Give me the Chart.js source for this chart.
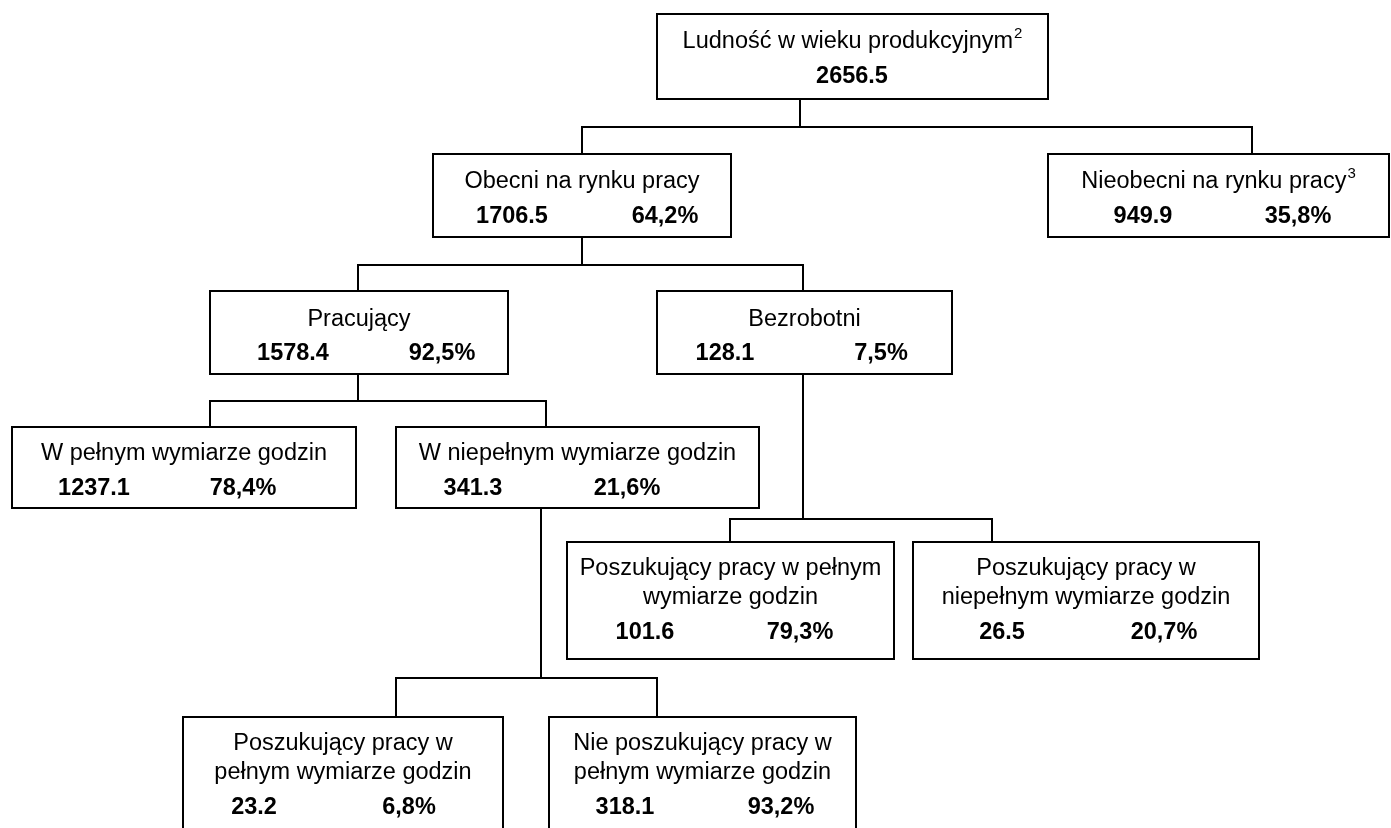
<!DOCTYPE html>
<html><head><meta charset="utf-8">
<script src="https://cdn.jsdelivr.net/npm/chart.js@4"></script>
<style>html,body{margin:0;padding:0;background:#fff}#wrap{width:1391px;height:828px;position:relative}</style>
</head><body><div id="wrap"><canvas id="c"></canvas></div>
<script>
// ---- data ----
const nodeTitles = [
  ['Ludność w wieku produkcyjnym'],
  ['Obecni na rynku pracy'],
  ['Nieobecni na rynku pracy'],
  ['Pracujący'],
  ['Bezrobotni'],
  ['W pełnym wymiarze godzin'],
  ['W niepełnym wymiarze godzin'],
  ['Poszukujący pracy w pełnym', 'wymiarze godzin'],
  ['Poszukujący pracy w', 'niepełnym wymiarze godzin'],
  ['Poszukujący pracy w', 'pełnym wymiarze godzin'],
  ['Nie poszukujący pracy w', 'pełnym wymiarze godzin']
];
const nodeNotes   = ['2', '', '3', '', '', '', '', '', '', '', ''];
const nodeValues  = [2656.5, 1706.5, 949.9, 1578.4, 128.1, 1237.1, 341.3, 101.6, 26.5, 23.2, 318.1];
const nodeShares  = [null, 64.2, 35.8, 92.5, 7.5, 78.4, 21.6, 79.3, 20.7, 6.8, 93.2];
const nodeParents = [-1, 0, 0, 1, 1, 3, 3, 4, 4, 6, 6];

// ---- layout (diagram units = px of the 1391x828 frame) ----
const boxLeft   = [657, 433, 1048, 210, 657, 12, 396, 567, 913, 183, 549];
const boxRight  = [1048, 731, 1389, 508, 952, 356, 759, 894, 1259, 503, 856];
const boxTop    = [14, 154, 154, 291, 291, 427, 427, 542, 542, 717, 717];
const boxBottom = [99, 237, 237, 374, 374, 508, 508, 659, 659, 840, 840];
const titleY    = [42, 182, 182, 320, 320, 454, 454, 569, 569, 744, 744];
const valueY    = [77, 217, 217, 354, 354, 489, 489, 633, 633, 808, 808];
const valueX    = [852, 512, 1143, 293, 725, 94, 473, 645, 1002, 254, 625];
const shareX    = [null, 665, 1298, 442, 881, 243, 627, 800, 1164, 409, 781];
const entryX    = [null, 582, 1252, 358, 803, 210, 546, 730, 992, 396, 657];
const exitX     = [800, 582, null, 358, 803, null, 541, null, null, null, null];
const busY      = [127, 265, null, 401, 519, null, 678, null, null, null, null];
const lineGap   = 29;
const FONT = "'Liberation Sans', Arial, sans-serif";
const FS = 23.5;

const fmtVal = v => v.toFixed(1);
const fmtShare = s => s.toFixed(1).replace('.', ',') + '%';

const treePlugin = {
  id: 'tree',
  afterDraw(chart) {
    const ctx = chart.ctx, X = v => chart.scales.x.getPixelForValue(v), Y = v => chart.scales.y.getPixelForValue(v);
    ctx.save();
    ctx.strokeStyle = '#000';
    ctx.lineWidth = 2;
    ctx.lineCap = 'square';
    // connectors
    nodeParents.forEach((p, i) => {
      if (p < 0) return;
      ctx.beginPath();
      ctx.moveTo(X(entryX[i]), Y(busY[p]));
      ctx.lineTo(X(entryX[i]), Y(boxTop[i]));
      ctx.stroke();
    });
    exitX.forEach((ex, p) => {
      if (ex == null) return;
      const kids = nodeParents.map((q, i) => q === p ? entryX[i] : null).filter(v => v != null);
      const lo = Math.min(ex, ...kids), hi = Math.max(ex, ...kids);
      ctx.beginPath();
      ctx.moveTo(X(ex), Y(boxBottom[p]));
      ctx.lineTo(X(ex), Y(busY[p]));
      ctx.moveTo(X(lo), Y(busY[p]));
      ctx.lineTo(X(hi), Y(busY[p]));
      ctx.stroke();
    });
    // boxes
    nodeTitles.forEach((t, i) => {
      const x0 = X(boxLeft[i]), x1 = X(boxRight[i]), y0 = Y(boxTop[i]), y1 = Y(boxBottom[i]);
      ctx.fillStyle = '#fff';
      ctx.fillRect(x0, y0, x1 - x0, y1 - y0);
      ctx.strokeRect(x0, y0, x1 - x0, y1 - y0);
      ctx.fillStyle = '#000';
      ctx.textBaseline = 'middle';
      const cx = (x0 + x1) / 2;
      t.forEach((line, k) => {
        const y = Y(titleY[i] + k * lineGap);
        ctx.font = FS + 'px ' + FONT;
        const w = ctx.measureText(line).width;
        let sw = 0;
        const note = k === t.length - 1 ? nodeNotes[i] : '';
        if (note) { ctx.font = '15px ' + FONT; sw = ctx.measureText(note).width + 1; }
        const start = cx - (w + sw) / 2;
        ctx.font = FS + 'px ' + FONT;
        ctx.textAlign = 'left';
        ctx.fillText(line, start, y);
        if (note) { ctx.font = '15px ' + FONT; ctx.fillText(note, start + w + 1, y - 8); }
      });
      ctx.font = 'bold ' + FS + 'px ' + FONT;
      ctx.textAlign = 'center';
      ctx.fillText(fmtVal(nodeValues[i]), X(valueX[i]), Y(valueY[i]));
      if (nodeShares[i] != null) ctx.fillText(fmtShare(nodeShares[i]), X(shareX[i]), Y(valueY[i]));
    });
    ctx.restore();
  }
};

new Chart(document.getElementById('c'), {
  type: 'scatter',
  data: { datasets: [{ data: [] }] },
  options: {
    responsive: true, maintainAspectRatio: false, animation: false,
    layout: { padding: 0 },
    plugins: { legend: { display: false }, tooltip: { enabled: false } },
    scales: {
      x: { type: 'linear', min: 0, max: 1391, display: false },
      y: { type: 'linear', min: 0, max: 828, reverse: true, display: false }
    }
  },
  plugins: [treePlugin]
});
</script></body></html>
